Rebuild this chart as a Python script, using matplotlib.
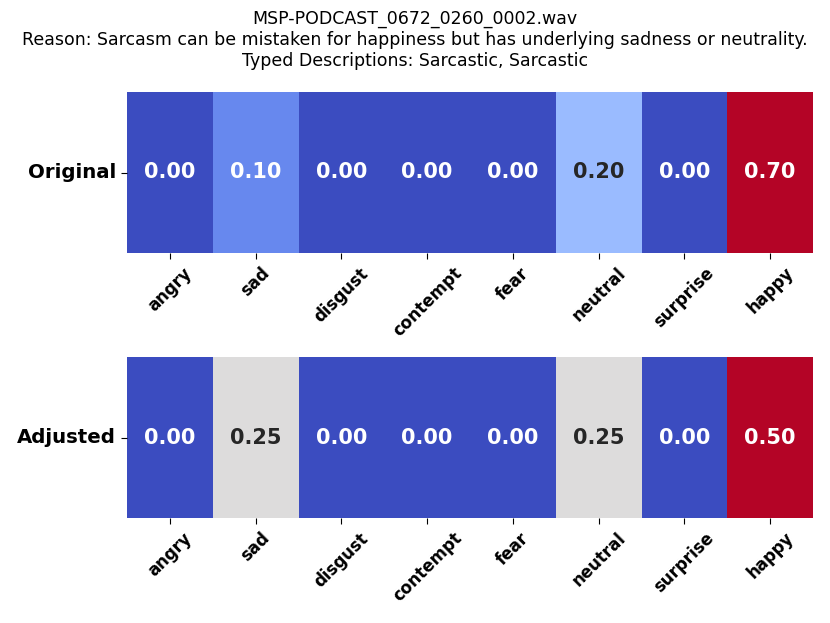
import matplotlib
matplotlib.use("Agg")
import matplotlib.pyplot as plt
import numpy as np
import seaborn as sns

emotions = ["angry", "sad", "disgust", "contempt", "fear", "neutral", "surprise", "happy"]
original = [0.00, 0.10, 0.00, 0.00, 0.00, 0.20, 0.00, 0.70]
adjusted = [0.00, 0.25, 0.00, 0.00, 0.00, 0.25, 0.00, 0.50]
row_labels = ["Original", "Adjusted"]

title = ("MSP-PODCAST_0672_0260_0002.wav\n"
         "Reason: Sarcasm can be mistaken for happiness but has underlying sadness or neutrality.\n"
         "Typed Descriptions: Sarcastic, Sarcastic")

fig = plt.figure(figsize=(8.3, 6.23), dpi=100)
ax1 = fig.add_axes([127 / 830, 1 - 253 / 623, 686 / 830, 161 / 623])
ax2 = fig.add_axes([127 / 830, 1 - 518 / 623, 686 / 830, 161 / 623])

for ax, vals, label in [(ax1, original, row_labels[0]), (ax2, adjusted, row_labels[1])]:
    sns.heatmap(np.array([vals]), ax=ax, cmap="coolwarm", annot=True, fmt=".2f",
                cbar=False, xticklabels=emotions, yticklabels=[label],
                annot_kws={"fontsize": 15, "fontweight": "bold"})
    ax.set_xticklabels(emotions, rotation=45, fontsize=12, fontweight="bold")
    ax.set_yticklabels([label], rotation=0, fontsize=14.2, fontweight="bold")
    ax.tick_params(length=4.5)

fig.suptitle(title, fontsize=12.5, y=0.984)
fig.savefig("out.png", dpi=100)
